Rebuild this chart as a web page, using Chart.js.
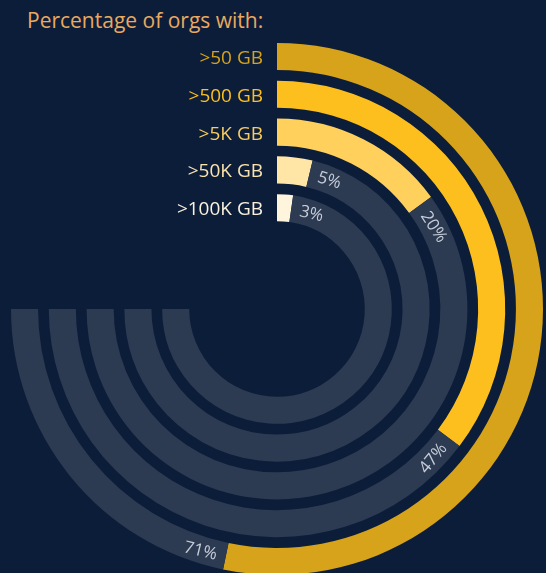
<!DOCTYPE html>
<html>
<head>
<meta charset="utf-8">
<script src="https://cdn.jsdelivr.net/npm/chart.js@4/dist/chart.umd.min.js"></script>
<style>
  html, body { margin: 0; padding: 0; background: #0c1d3a; overflow: hidden; width: 546px; height: 573px; }
  #wrap { position: relative; width: 546px; height: 580px; }
  #title { position: absolute; left: 27px; top: 6px; font-family: "Open Sans", sans-serif; font-size: 21px; color: #e9a95f; white-space: nowrap; }
  canvas { position: absolute; left: 0; top: 0; }
</style>
</head>
<body>
<div id="wrap">
  <div id="title">Percentage of orgs with:</div>
  <canvas id="c" width="546" height="580"></canvas>
</div>
<script>
// ---- data ----
const categories = ['>50 GB', '>500 GB', '>5K GB', '>50K GB', '>100K GB'];
const values = [71, 47, 20, 5, 3];
const total = 100;

// ---- styles ----
const fillColors = ['#d6a31b', '#fdbf1e', '#ffd05c', '#ffe5a6', '#fff4dc'];
const labelColors = ['#d6a31b', '#fdbf1e', '#f8cc60', '#fbe3ad', '#fbf1df'];
const trackColor = '#2c3a52';
const ringWeight = 27;
const gapWeight = 10.7;

const datasets = [];
categories.forEach((cat, i) => {
  if (i > 0) {
    datasets.push({ label: 'gap' + i, data: [total], backgroundColor: ['rgba(0,0,0,0)'], weight: gapWeight, isGap: true });
  }
  datasets.push({
    label: cat,
    data: [values[i], total - values[i]],
    backgroundColor: [fillColors[i], trackColor],
    weight: ringWeight,
    ringIndex: i
  });
});

const labelPlugin = {
  id: 'ringLabels',
  afterDatasetsDraw(chart) {
    const ctx = chart.ctx;
    chart.data.datasets.forEach((ds, di) => {
      if (ds.isGap) return;
      const i = ds.ringIndex;
      const meta = chart.getDatasetMeta(di);
      const arc = meta.data[0];
      const cx = arc.x, cy = arc.y;
      const rMid = (arc.innerRadius + arc.outerRadius) / 2;
      // category label, right aligned left of ring top
      ctx.save();
      ctx.font = '19px "Open Sans", sans-serif';
      ctx.fillStyle = labelColors[i];
      ctx.textAlign = 'right';
      ctx.textBaseline = 'alphabetic';
      ctx.fillText(ds.label, cx - 14, cy - rMid + 7.5);
      ctx.restore();

      // percent label along the arc after the fill end
      const pad = 9;
      const a = arc.endAngle + pad / rMid;
      const px = cx + rMid * Math.cos(a);
      const py = cy + rMid * Math.sin(a);
      const theta = a + Math.PI / 2; // clockwise from top
      ctx.save();
      ctx.translate(px, py);
      ctx.font = '17px "Open Sans", sans-serif';
      ctx.fillStyle = '#c6ccd8';
      ctx.textBaseline = 'middle';
      if (theta > Math.PI / 2 && theta < 3 * Math.PI / 2) {
        ctx.rotate(theta - Math.PI);
        ctx.textAlign = 'right';
      } else {
        ctx.rotate(theta);
        ctx.textAlign = 'left';
      }
      ctx.fillText(values[i] + '%', 0, 1);
      ctx.restore();
    });
  }
};

new Chart(document.getElementById('c'), {
  type: 'doughnut',
  data: { labels: ['value', 'rest'], datasets },
  options: {
    responsive: false,
    animation: false,
    rotation: 0,
    circumference: 270,
    cutout: '33%',
    borderWidth: 0,
    hoverOffset: 0,
    layout: { padding: { left: 11, top: 43, right: 3, bottom: 5 } },
    plugins: { legend: { display: false }, tooltip: { enabled: false }, title: { display: false } },
    events: []
  },
  plugins: [labelPlugin]
});
</script>
</body>
</html>
